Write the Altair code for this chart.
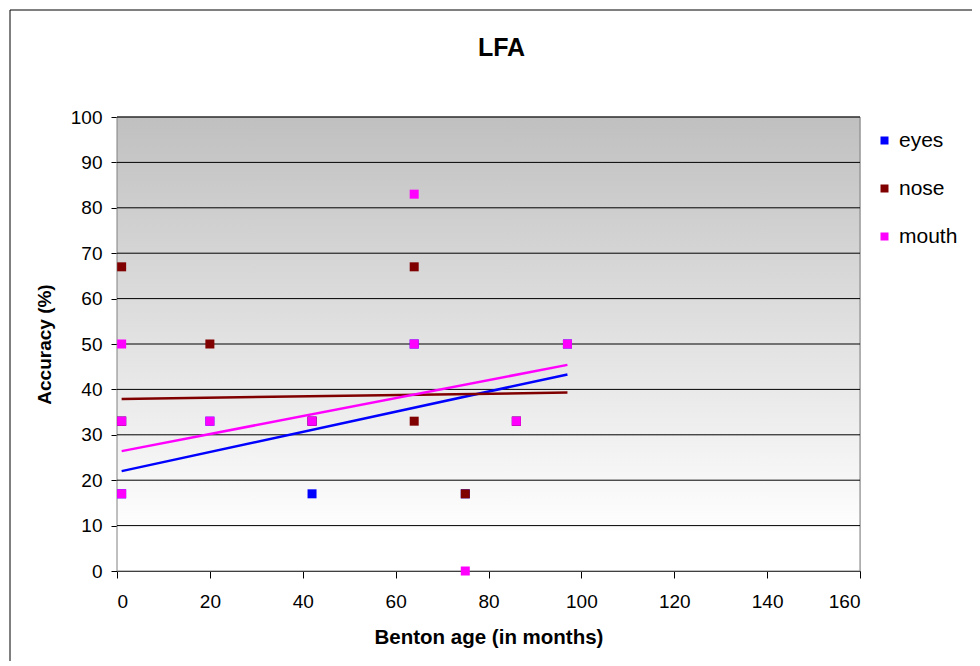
import altair as alt
import pandas as pd

# ---- data ----
eyes_x = [1, 1, 20, 42, 42, 64, 75, 86, 97]
eyes_y = [17, 33, 33, 33, 17, 50, 17, 33, 50]
nose_x = [1, 1, 20, 42, 64, 64, 75, 86]
nose_y = [67, 33, 50, 33, 67, 33, 17, 33]
mouth_x = [1, 1, 1, 20, 42, 64, 64, 75, 86, 97]
mouth_y = [50, 33, 17, 33, 33, 83, 50, 0, 33, 50]

series = ["eyes", "nose", "mouth"]
colors = ["#0000ff", "#800000", "#ff00ff"]

# linear trend lines (start/end values)
trend_x0 = [1, 1, 1]
trend_x1 = [97, 97, 97]
trend_y0 = [22.0, 37.9, 26.4]
trend_y1 = [43.3, 39.3, 45.4]

x_ticks = list(range(0, 161, 20))
y_ticks = list(range(0, 101, 10))

rows = []
for name, xs, ys in (("eyes", eyes_x, eyes_y), ("nose", nose_x, nose_y), ("mouth", mouth_x, mouth_y)):
    for x, y in zip(xs, ys):
        rows.append({"series": name, "age": x, "acc": y, "ord": series.index(name)})
pts = pd.DataFrame(rows)

trows = []
for i, s in enumerate(series):
    trows.append({"series": s, "age": trend_x0[i], "acc": trend_y0[i], "order": 0})
    trows.append({"series": s, "age": trend_x1[i], "acc": trend_y1[i], "order": 1})
trend = pd.DataFrame(trows)

W, H = 743, 454
FONT = "Liberation Sans"

xscale = alt.Scale(domain=[0, 160], nice=False, zero=False)
yscale = alt.Scale(domain=[0, 100], nice=False)
cscale = alt.Scale(domain=series, range=colors)
legend = alt.Legend(
    title=None, orient="none", legendX=W + 14, legendY=13, symbolType="square",
    symbolSize=64, labelFontSize=21, labelFont=FONT, labelColor="#000000",
    rowPadding=26, symbolStrokeWidth=0, symbolOpacity=1, labelOffset=4,
)

one = pd.DataFrame({"a": [0]})

bg = alt.Chart(one).mark_rect(
    color=alt.Gradient(
        gradient="linear", x1=0, y1=0, x2=0, y2=1,
        stops=[alt.GradientStop(color="#c0c0c0", offset=0),
               alt.GradientStop(color="#ffffff", offset=0.92),
               alt.GradientStop(color="#ffffff", offset=1)],
    ),
    stroke="#808080", strokeWidth=1,
).encode(x=alt.value(0), x2=alt.value(W), y=alt.value(0), y2=alt.value(H))

frame = alt.Chart(one).mark_rect(
    filled=False, stroke="#000000", strokeWidth=1, clip=False
).encode(x=alt.value(-107), x2=alt.value(858), y=alt.value(-107), y2=alt.value(560))

title = alt.Chart(one).mark_text(
    text="LFA", font=FONT, fontSize=25, fontWeight="bold", color="#000000",
    align="center", baseline="alphabetic",
).encode(x=alt.value(384.5), y=alt.value(-61.5))

grid = alt.Chart(pd.DataFrame({"g": y_ticks[1:]})).mark_rule(
    color="#000000", strokeWidth=1
).encode(y=alt.Y("g:Q", scale=yscale), x=alt.value(0), x2=alt.value(W))

xaxis = alt.Axis(
    values=x_ticks, grid=False, domainColor="#000000", tickColor="#000000",
    tickSize=7, labelFontSize=19, labelFont=FONT, labelColor="#000000", labelPadding=14,
    title="Benton age (in months)", titleFont=FONT, titleFontSize=20.5, titleFontWeight="bold",
    titleColor="#000000", titlePadding=16,
)
yaxis = alt.Axis(
    values=y_ticks, grid=False,
    domainColor="#000000", tickColor="#000000", tickSize=6, labelFontSize=19, labelFont=FONT,
    labelColor="#000000", labelPadding=9,
    title="Accuracy (%)", titleFont=FONT, titleFontSize=19, titleFontWeight="bold",
    titleColor="#000000", titlePadding=16,
)

points = alt.Chart(pts).mark_square(size=81, opacity=1).encode(
    x=alt.X("age:Q", scale=xscale, axis=xaxis),
    y=alt.Y("acc:Q", scale=yscale, axis=yaxis),
    color=alt.Color("series:N", scale=cscale, sort=series, legend=legend),
    order=alt.Order("ord:Q"),
)

lines = alt.Chart(trend).mark_line(strokeWidth=2.5).encode(
    x=alt.X("age:Q", scale=xscale),
    y=alt.Y("acc:Q", scale=yscale),
    color=alt.Color("series:N", scale=cscale, sort=series, legend=legend),
    detail="series:N",
    order="order:Q",
)

chart = alt.layer(frame, bg, grid, title, lines, points).properties(
    width=W, height=H,
    autosize=alt.AutoSizeParams(type="none"),
    padding={"left": 109, "top": 109, "right": 112, "bottom": 90},
).configure_view(stroke=None).configure(background="#ffffff")

chart.save("out.html", embed_options={"renderer": "svg", "actions": False})
